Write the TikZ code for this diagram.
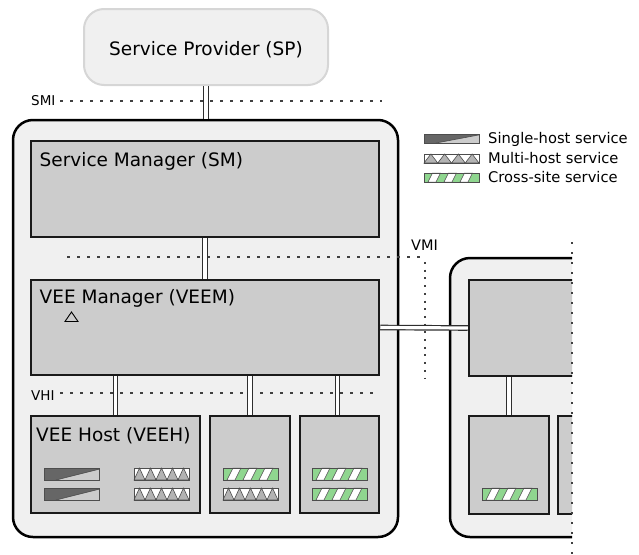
\documentclass[tikz,border=0pt]{standalone}
\usepackage{fontspec}
\setmainfont{DejaVu Sans}

\definecolor{panel}{HTML}{F0F0F0}
\definecolor{unitfill}{HTML}{CCCCCC}
\definecolor{spedge}{HTML}{D6D6D6}
\definecolor{edge}{HTML}{1A1A1A}
\definecolor{linkc}{HTML}{2E2E2E}
\definecolor{wedgedark}{HTML}{666666}
\definecolor{wedgelight}{HTML}{CCCCCC}
\definecolor{trigray}{HTML}{B3B3B3}
\definecolor{crossgreen}{HTML}{8FD68F}
\definecolor{iconedge}{HTML}{4D4D4D}

\tikzset{
  sitebox/.style={draw=black, line width=2.5pt, fill=panel, rounded corners=20pt, inner sep=0},
  spbox/.style={draw=spedge, line width=2pt, fill=panel, rounded corners=20pt, inner sep=0},
  unitbox/.style={draw=edge, line width=2.5pt, fill=unitfill, inner sep=0},
  link/.style={draw=linkc, line width=1.2pt, double=white, double distance=3.2pt},
  iface/.style={draw=black!75, line width=1.1pt, dash pattern=on 3pt off 7pt},
  ifacev/.style={draw=black!75, line width=1.1pt, dash pattern=on 2pt off 5.7pt},
  biglabel/.style={inner sep=0, anchor=base west, font=\fontsize{18.5}{22}\selectfont},
  iflabel/.style={inner sep=0, anchor=base west, font=\fontsize{13.5}{16}\selectfont},
  leglabel/.style={inner sep=0, anchor=base west, font=\fontsize{14.7}{17}\selectfont},
  iconline/.style={draw=iconedge, line width=1pt},
}

% single-host service: x, y (top left), height
\newcommand\svcsingle[3]{%
  \begin{scope}[shift={(#1,#2)}]
    \fill[wedgelight] (0,0) rectangle (55,#3);
    \fill[wedgedark] (0,0) -- (55,0) -- (55,0.1*#3) -- (12,#3) -- (0,#3) -- cycle;
    \draw[draw=iconedge, line width=0.6pt] (12,#3) -- (55,0.1*#3);
    \draw[iconline] (0,0) rectangle (55,#3);
  \end{scope}}

% multi-host service: x, y (top left), height, number of teeth
\newcommand\svcmulti[4]{%
  \begin{scope}[shift={(#1,#2)}]
    \fill[white] (0,0) rectangle (55,#3);
    \foreach \k in {1,...,#4}{
      \filldraw[fill=trigray, draw=iconedge, line width=0.6pt]
        ({(\k-1)*55/#4},#3) -- ({(\k-0.5)*55/#4},0) -- ({\k*55/#4},#3) -- cycle;
    }
    \draw[iconline] (0,0) rectangle (55,#3);
  \end{scope}}

% cross-site service: x, y (top left), height
\newcommand\svccross[3]{%
  \begin{scope}[shift={(#1,#2)}]
    \fill[crossgreen] (0,0) rectangle (55,#3);
    \foreach \s in {0,16,32}{
      \filldraw[fill=white, draw=iconedge, line width=0.5pt]
        (\s+4,#3) -- (\s+12,#3) -- (\s+12+#3/2,0) -- (\s+4+#3/2,0) -- cycle;
    }
    \draw[iconline] (0,0) rectangle (55,#3);
  \end{scope}}

\begin{document}
\begin{tikzpicture}[x=1pt,y=-1pt]
\useasboundingbox (0,0) rectangle (639,554);

% local site and service provider
\node[sitebox, minimum width=385pt, minimum height=417pt] (site) at (205.5,328.5) {};
\node[spbox, minimum width=244pt, minimum height=76pt] (sp) at (206,47) {};
\node[inner sep=0, anchor=base, font=\fontsize{18.5}{22}\selectfont] (splabel) at (206,55) {Service Provider (SP)};

% interfaces
\coordinate (smiA) at (60,101);  \coordinate (smiB) at (382,101);
\coordinate (vmiA) at (67,257);  \coordinate (vmiB) at (420,257);
\coordinate (vmiC) at (425,262); \coordinate (vmiD) at (425,378);
\coordinate (vhiA) at (60,393);  \coordinate (vhiB) at (380,393);
\draw[iface] (smiA) -- (smiB);
\draw[iface] (vmiA) -- (vmiB);
\draw[ifacev] (vmiC) -- (vmiD);
\draw[iface] (vhiA) -- (vhiB);
\node[iflabel] (smi) at (31,105.5) {SMI};
\node[iflabel] (vhi) at (31,400) {VHI};
\node[inner sep=0, anchor=base west, font=\fontsize{14.5}{17}\selectfont] (vmi) at (411,250) {VMI};

% managers and hosts
\node[unitbox, minimum width=348pt, minimum height=96pt] (sm) at (205,189) {};
\node[unitbox, minimum width=348pt, minimum height=95pt] (veem) at (205,327.5) {};
\node[unitbox, minimum width=169pt, minimum height=97pt] (veeh) at (115.5,464.5) {};
\node[unitbox, minimum width=80pt, minimum height=97pt] (host2) at (250,464.5) {};
\node[unitbox, minimum width=79pt, minimum height=97pt] (host3) at (339.5,464.5) {};

\node[biglabel] (smlabel) at (39.5,166) {Service Manager (SM)};
\node[biglabel] (veemlabel) at (39.5,303) {VEE Manager (VEEM)};
\node[biglabel] (veehlabel) at (36,441) {VEE Host (VEEH)};
\draw[line width=0.9pt] (65,321.5) -- (71.5,312) -- (78,321.5) -- cycle;

% services running on the hosts
\svcsingle{44}{468}{12}
\svcsingle{44}{488}{12}
\svcmulti{134}{468}{12}{5}
\svcmulti{134}{488}{12}{5}
\svccross{223}{468}{12}
\svcmulti{223}{488}{12}{5}
\svccross{312}{468}{12}
\svccross{312}{488}{12}

% links
\draw[link] (sp.south) -- (sp.south |- site.north);
\draw[link] (sm.south) -- (veem.north);
\draw[link] (veeh.north) -- (veeh.north |- veem.south);
\draw[link] (host2.north) -- (host2.north |- veem.south);
\draw[link] ([xshift=-2pt]host3.north) -- ([xshift=-2pt]host3.north |- veem.south);

% remote site, cut at the page edge
\begin{scope}
  \clip (440,230) rectangle (572,554);
  \node[sitebox, minimum width=190pt, minimum height=279pt] (rsite) at (545,397.5) {};
  \node[unitbox, minimum width=171pt, minimum height=96pt] (rveem) at (554.5,328) {};
  \node[unitbox, minimum width=80pt, minimum height=98pt] (rhost1) at (509,465) {};
  \node[unitbox, minimum width=82pt, minimum height=98pt] (rhost2) at (599,465) {};
  \svccross{482}{488}{12}
  \draw[link] (rhost1.north) -- (rhost1.north |- rveem.south);
\end{scope}
\draw[link] (veem.east) -- (rveem.west);

\coordinate (edgeA) at (572,242); \coordinate (edgeB) at (572,554);
\draw[draw=black!75, line width=1.1pt, dash pattern=on 2pt off 8pt] (edgeA) -- (edgeB);

% legend
\svcsingle{424}{134}{9}
\svcmulti{424}{154}{9}{4}
\svccross{424}{173}{9}
\node[leglabel] (leg1) at (488,143.5) {Single-host service};
\node[leglabel] (leg2) at (488,163) {Multi-host service};
\node[leglabel] (leg3) at (488,182.5) {Cross-site service};
\end{tikzpicture}
\end{document}
